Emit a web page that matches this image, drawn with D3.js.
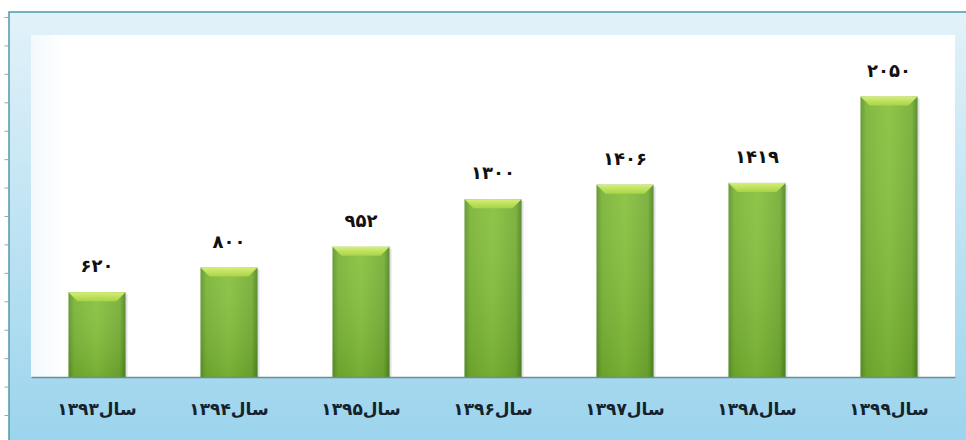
<!DOCTYPE html>
<html>
<head>
<meta charset="utf-8">
<script src="https://cdn.jsdelivr.net/npm/d3@7/dist/d3.min.js"></script>
<style>
  body { margin: 0; background: #fff; }
  #wrapper svg { display: block; }
</style>
</head>
<body>
<div id="wrapper"></div>
<script>
const years = ['سال۱۳۹۳', 'سال۱۳۹۴', 'سال۱۳۹۵', 'سال۱۳۹۶', 'سال۱۳۹۷', 'سال۱۳۹۸', 'سال۱۳۹۹']
const values = [620, 800, 952, 1300, 1406, 1419, 2050]
const valueLabels = ['۶۲۰', '۸۰۰', '۹۵۲', '۱۳۰۰', '۱۴۰۶', '۱۴۱۹', '۲۰۵۰']
const sideTicks = [0, 200, 400, 600, 800, 1000, 1200, 1400, 1600, 1800, 2000, 2200, 2400, 2600, 2800]

function drawChart() {
    const data = years.map((y, i) => ({ year: y, value: values[i], label: valueLabels[i] }))

    let dimensions = {
        width: 966,
        height: 440,
        frame: { left: 9, top: 12 },
        plot: { left: 31, top: 35, right: 955, bottom: 377 }
    }

    const svg = d3.select('#wrapper').append('svg')
        .attr('width', dimensions.width)
        .attr('height', dimensions.height)

    const defs = svg.append('defs')

    const bgGrad = defs.append('linearGradient').attr('id', 'bg')
        .attr('x1', 0).attr('y1', 0).attr('x2', 0).attr('y2', 1)
    bgGrad.append('stop').attr('offset', '0%').attr('stop-color', '#e2f2f9')
    bgGrad.append('stop').attr('offset', '100%').attr('stop-color', '#9bd4ed')

    const plotGrad = defs.append('linearGradient').attr('id', 'plotbg')
        .attr('x1', 0).attr('y1', 0).attr('x2', 1).attr('y2', 0)
    plotGrad.append('stop').attr('offset', '0%').attr('stop-color', '#f3f9fc')
    plotGrad.append('stop').attr('offset', '4%').attr('stop-color', '#ffffff')
    plotGrad.append('stop').attr('offset', '100%').attr('stop-color', '#ffffff')

    const barGrad = defs.append('linearGradient').attr('id', 'bar')
        .attr('x1', 0).attr('y1', 0).attr('x2', 1).attr('y2', 0)
    barGrad.append('stop').attr('offset', '0%').attr('stop-color', '#5a9428')
    barGrad.append('stop').attr('offset', '10%').attr('stop-color', '#78b233')
    barGrad.append('stop').attr('offset', '50%').attr('stop-color', '#86c03b')
    barGrad.append('stop').attr('offset', '90%').attr('stop-color', '#74ac31')
    barGrad.append('stop').attr('offset', '100%').attr('stop-color', '#4c8421')

    const shadeGrad = defs.append('linearGradient').attr('id', 'shade')
        .attr('x1', 0).attr('y1', 0).attr('x2', 0).attr('y2', 1)
    shadeGrad.append('stop').attr('offset', '0%').attr('stop-color', '#ffffff').attr('stop-opacity', 0.08)
    shadeGrad.append('stop').attr('offset', '100%').attr('stop-color', '#2d5a10').attr('stop-opacity', 0.18)

    const bevelGrad = defs.append('linearGradient').attr('id', 'bevel')
        .attr('x1', 0).attr('y1', 0).attr('x2', 0).attr('y2', 1)
    bevelGrad.append('stop').attr('offset', '0%').attr('stop-color', '#d6ee78')
    bevelGrad.append('stop').attr('offset', '100%').attr('stop-color', '#a8d446')

    // outer frame
    svg.append('rect')
        .attr('x', dimensions.frame.left)
        .attr('y', dimensions.frame.top)
        .attr('width', dimensions.width - dimensions.frame.left + 2)
        .attr('height', dimensions.height - dimensions.frame.top + 2)
        .attr('fill', 'url(#bg)')
        .attr('stroke', '#4d9aa6')
        .attr('stroke-width', 1.5)

    // plot area
    const p = dimensions.plot
    svg.append('rect')
        .attr('x', p.left).attr('y', p.top)
        .attr('width', p.right - p.left).attr('height', p.bottom - p.top)
        .attr('fill', 'url(#plotbg)')

    const xScale = d3.scaleBand()
        .domain(years)
        .range([p.left, p.right])
        .paddingInner(0.568)
        .paddingOuter(0.284)

    const yScale = d3.scaleLinear()
        .domain([0, 2500])
        .range([p.bottom, p.top])

    // small ticks to the left of the frame
    const tickScale = d3.scaleLinear().domain([0, 2800]).range([415, 17])
    const sideAxis = svg.append('g')
        .attr('transform', `translate(${dimensions.frame.left - 0.5},0)`)
        .call(d3.axisLeft(tickScale).tickValues(sideTicks).tickSize(4).tickFormat(''))
    sideAxis.select('.domain').remove()
    sideAxis.selectAll('line').attr('stroke', '#9aa7ad')

    const bars = svg.append('g').selectAll('g')
        .data(data)
        .enter()
        .append('g')

    const bw = xScale.bandwidth()
    const bev = 9

    bars.append('rect')
        .attr('x', d => xScale(d.year) + 2)
        .attr('y', d => yScale(d.value) + 2)
        .attr('width', bw)
        .attr('height', d => yScale(0) - yScale(d.value) - 2)
        .attr('fill', '#000')
        .attr('opacity', 0.12)

    bars.append('rect')
        .attr('x', d => xScale(d.year))
        .attr('y', d => yScale(d.value))
        .attr('width', bw)
        .attr('height', d => yScale(0) - yScale(d.value))
        .attr('fill', 'url(#bar)')

    bars.append('rect')
        .attr('x', d => xScale(d.year))
        .attr('y', d => yScale(d.value))
        .attr('width', bw)
        .attr('height', d => yScale(0) - yScale(d.value))
        .attr('fill', 'url(#shade)')

    bars.append('path')
        .attr('d', d => {
            const x0 = xScale(d.year), y0 = yScale(d.value)
            return `M${x0},${y0}L${x0 + bw},${y0}L${x0 + bw - bev},${y0 + bev}L${x0 + bev},${y0 + bev}Z`
        })
        .attr('fill', 'url(#bevel)')

    bars.append('text')
        .attr('x', d => xScale(d.year) + bw / 2)
        .attr('y', d => yScale(d.value) - 20)
        .attr('text-anchor', 'middle')
        .attr('font-family', 'DejaVu Sans')
        .attr('font-weight', 'bold')
        .attr('font-size', 18)
        .attr('letter-spacing', -1.5)
        .attr('fill', '#111')
        .text(d => d.label)

    // baseline + category labels
    const xAxis = svg.append('g')
        .attr('transform', `translate(0,${p.bottom})`)
        .call(d3.axisBottom(xScale).tickSize(0).tickPadding(26))
    xAxis.select('.domain').attr('stroke', '#6e8c92').attr('stroke-width', 1.5)
    xAxis.selectAll('text')
        .attr('font-family', 'DejaVu Sans')
        .attr('font-weight', 'bold')
        .attr('font-size', 17)
        .attr('fill', '#15222c')
        .attr('direction', 'rtl')
}

drawChart()
</script>
</body>
</html>
